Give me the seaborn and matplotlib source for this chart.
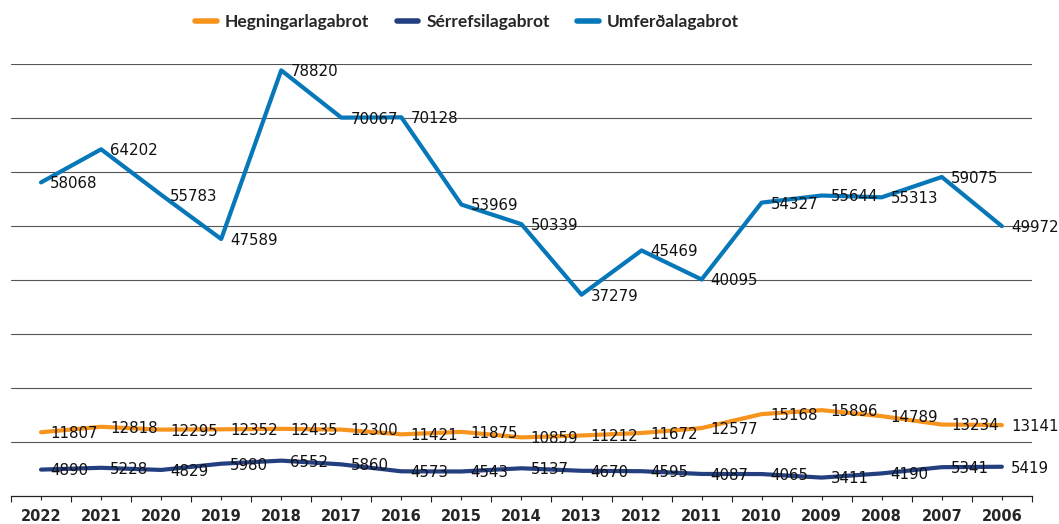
import pandas as pd
import matplotlib
matplotlib.use('agg')
import matplotlib.pyplot as plt
from matplotlib.ticker import MultipleLocator
import seaborn as sns

years = ['2022', '2021', '2020', '2019', '2018', '2017', '2016', '2015', '2014',
         '2013', '2012', '2011', '2010', '2009', '2008', '2007', '2006']
hegningarlagabrot = [11807, 12818, 12295, 12352, 12435, 12300, 11421, 11875, 10859,
                     11212, 11672, 12577, 15168, 15896, 14789, 13234, 13141]
serrefsilagabrot = [4890, 5228, 4829, 5980, 6552, 5860, 4573, 4543, 5137,
                    4670, 4595, 4087, 4065, 3411, 4190, 5341, 5419]
umferdalagabrot = [58068, 64202, 55783, 47589, 78820, 70067, 70128, 53969, 50339,
                   37279, 45469, 40095, 54327, 55644, 55313, 59075, 49972]
series = ['Hegningarlagabrot', 'Sérrefsilagabrot', 'Umferðalagabrot']
colors = ['#F7941D', '#233F7F', '#0677B8']


def main():
    rows = []
    for name, vals in zip(series, [hegningarlagabrot, serrefsilagabrot, umferdalagabrot]):
        for i, (yr, v) in enumerate(zip(years, vals)):
            rows.append({'pos': i, 'year': yr, 'value': v, 'series': name})
    dfrm = pd.DataFrame(rows)

    sns.set_style('white')
    fig = plt.figure(figsize=(10.59, 5.24), dpi=100)
    axes = fig.add_axes([0.0104, 0.0534, 0.964, 0.8245])
    sns.lineplot(data=dfrm, x='pos', y='value', hue='series', hue_order=series,
                 palette=colors, linewidth=3, ax=axes, legend=False)

    # data labels to the right of each point
    for _, row in dfrm.iterrows():
        axes.annotate('{N}'.format(N=row['value']), xy=(row['pos'], row['value']),
                      xytext=(6.5, -1), textcoords='offset points', ha='left', va='center',
                      fontsize=10.8, family='DejaVu Sans', color='#111111', clip_on=False)

    axes.set_xlim(-0.5, 16.5)
    axes.set_ylim(0, 80000)
    axes.set_xticks(range(len(years)))
    axes.set_xticklabels(years, fontsize=10.5, fontweight='bold')
    axes.xaxis.set_minor_locator(MultipleLocator(1.0, offset=0.5))
    axes.tick_params(axis='x', which='major', direction='out', length=3, width=0.8,
                     color='#222222', bottom=True, pad=6)
    axes.tick_params(axis='x', which='minor', direction='out', length=4, width=0.8,
                     color='#222222', bottom=True)
    axes.set_yticks(range(10000, 80001, 10000))
    axes.set_yticklabels([])
    axes.tick_params(axis='y', length=0)
    axes.yaxis.grid(True, color='#555555', linewidth=0.8)
    axes.set_xlabel('')
    axes.set_ylabel('')
    for side in ['left', 'right', 'top']:
        axes.spines[side].set_visible(False)
    axes.spines['bottom'].set_color('#222222')
    axes.spines['bottom'].set_linewidth(0.9)

    handles = [plt.Line2D([], [], color=c, linewidth=4) for c in colors]
    fig.legend(handles, series, loc='center', bbox_to_anchor=(0.441, 0.958), ncol=3,
               frameon=False, handlelength=1.25, handletextpad=0.45, columnspacing=1.6,
               prop={'family': 'Lato', 'weight': 'bold', 'size': 12.5})

    fig.savefig('out.png', dpi=100)


if __name__ == '__main__':
    main()
